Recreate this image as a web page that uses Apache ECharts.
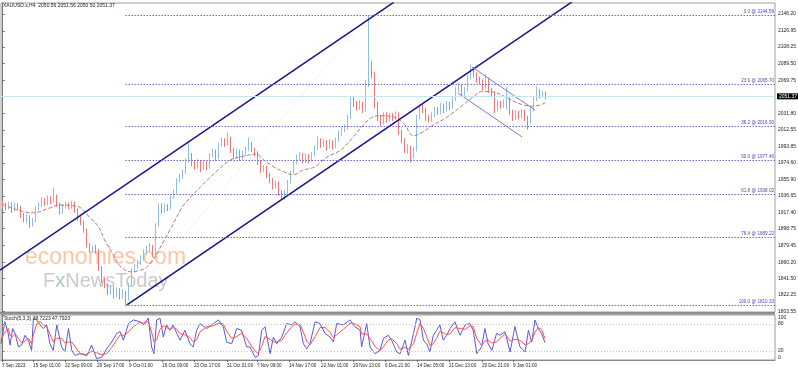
<!DOCTYPE html>
<html><head><meta charset="utf-8">
<script src="https://cdn.jsdelivr.net/npm/echarts@6/dist/echarts.min.js"></script>
<style>html,body{margin:0;padding:0;background:#fff}#c{width:798px;height:371px}</style>
</head><body><div id="c"></div>
<script>
// ---- DATA (one bar ~ 12h) ----
const opens = [
1928,1926,1923,1927,1920,1926,1923,1914,1909,1912,
1904,1908,1923,1926,1932,1928,1934,1930,1936,1927,
1918,1925,1927,1924,1928,1920,1911,1906,1897,1880,
1874,1876,1873,1853,1839,1834,1825,1830,1822,1828,
1821,1825,1818,1834,1851,1855,1860,1865,1872,1876,
1878,1870,1903,1926,1920,1925,1923,1936,1941,1955,
1959,1964,1978,1984,1975,1971,1976,1969,1975,1970,
1984,1988,1981,1996,2001,1997,2003,1990,1983,1988,
1981,1986,1990,1997,1990,1986,1976,1967,1969,1961,
1955,1948,1951,1941,1937,1940,1953,1964,1976,1981,
1984,1978,1983,1978,1984,1992,2001,1996,1999,1993,
1999,1994,2001,2009,2013,2015,2027,2048,2043,2039,
2043,2036,2066,2087,2077,2042,2027,2022,2030,2025,
2029,2027,2031,2011,2001,1990,1992,1984,1990,2027,
2039,2036,2027,2025,2030,2036,2034,2041,2036,2043,
2039,2048,2059,2063,2055,2059,2073,2083,2077,2071,
2069,2062,2071,2059,2055,2036,2044,2041,2045,2048,
2034,2027,2033,2029,2034,2027,2022,2036,2048,2057,
2053,2055];
const closes = [
1926,1923,1927,1920,1926,1923,1914,1909,1912,1904,
1908,1923,1926,1932,1928,1934,1930,1936,1927,1918,
1925,1927,1924,1928,1920,1911,1906,1897,1880,1874,
1876,1873,1853,1839,1834,1825,1830,1822,1828,1821,
1825,1818,1834,1851,1855,1860,1865,1872,1876,1878,
1870,1903,1926,1920,1925,1923,1936,1941,1955,1959,
1964,1978,1984,1975,1971,1976,1969,1975,1970,1984,
1988,1981,1996,2001,1997,2003,1990,1983,1988,1981,
1986,1990,1997,1990,1986,1976,1967,1969,1961,1955,
1948,1951,1941,1937,1940,1953,1964,1976,1981,1984,
1978,1983,1978,1984,1992,2001,1996,1999,1993,1999,
1994,2001,2009,2013,2015,2027,2048,2043,2039,2043,
2036,2066,2087,2077,2042,2027,2022,2030,2025,2029,
2027,2031,2011,2001,1990,1992,1984,1990,2027,2039,
2036,2027,2025,2030,2036,2034,2041,2036,2043,2039,
2048,2059,2063,2055,2059,2073,2083,2077,2071,2069,
2062,2071,2059,2055,2036,2044,2041,2045,2048,2034,
2027,2033,2029,2034,2027,2022,2036,2048,2057,2053,
2055,2051.37];
const lows = [
1922,1920,1921,1917,1918,1920,1911,1906,1905,1900,
1901,1906,1920,1924,1925,1926,1927,1929,1924,1915,
1916,1922,1921,1922,1917,1908,1903,1894,1877,1871,
1872,1870,1850,1836,1830,1822,1823,1818,1820,1817,
1818,1810.33,1816,1832,1848,1852,1857,1862,1869,1873,
1866,1868,1901,1916,1917,1919,1921,1933,1939,1952,
1956,1962,1975,1971,1967,1968,1964,1966,1966,1968,
1981,1977,1979,1993,1993,1995,1986,1979,1980,1977,
1978,1983,1988,1987,1982,1972,1963,1964,1957,1951,
1944,1945,1937,1933,1932,1938,1951,1962,1973,1978,
1974,1975,1974,1976,1982,1990,1992,1993,1989,1991,
1990,1992,1999,2006,2010,2013,2025,2039,2035,2036,
2032,2034,2062,2072,2038,2023,2017,2019,2021,2022,
2023,2024,2007,1997,1986,1985,1975,1980,1988,2025,
2032,2023,2021,2022,2027,2030,2031,2032,2034,2035,
2037,2046,2056,2051,2052,2057,2071,2073,2067,2065,
2058,2060,2055,2051,2032,2034,2037,2038,2036,2030,
2023,2024,2025,2026,2023,2013,2020,2034,2046,2049,
2050,2048];
const highs = [
1931,1929,1930,1929,1929,1928,1925,1917,1915,1914,
1911,1925,1929,1935,1934,1937,1936,1946,1938,1929,
1927,1930,1929,1931,1930,1922,1913,1908,1899,1882,
1879,1880,1875,1855,1842,1836,1834,1832,1831,1830,
1829,1827,1836,1853,1858,1863,1868,1875,1879,1882,
1880,1905,1928,1928,1928,1927,1938,1944,1957,1962,
1967,1980,1998,1986,1978,1979,1978,1978,1977,1986,
1991,1990,1998,2004,2003,2010,2005,1992,1991,1990,
1989,1993,2004,1999,1992,1988,1978,1972,1971,1963,
1957,1954,1953,1943,1943,1955,1966,1978,1984,1987,
1986,1986,1985,1987,1995,2005,2003,2002,2001,2002,
2001,2004,2012,2016,2019,2030,2052,2051,2046,2047,
2045,2070,2144.59,2092,2080,2045,2030,2033,2033,2032,
2032,2034,2033,2013,2003,1996,1994,1993,2030,2042,
2043,2038,2030,2033,2039,2039,2044,2043,2046,2045,
2051,2062,2067,2065,2062,2076,2088,2085,2079,2074,
2071,2077,2073,2061,2057,2047,2046,2048,2062,2050,
2036,2036,2035,2037,2036,2029,2039,2051,2063,2060,
2058,2057];
const barCount = 258;            // bars that fit on the time axis (incl. empty right side)
const lastPrice = 2051.37;

// moving average: [bar, price]
const maPoints = [[0,1927],[10,1917],[16,1923],[19,1926],[24,1925],[26,1923],[29,1912],[32,1901],[34,1886],[36,1874],[38,1862],[40,1853],[43,1849],[46,1851],[48,1854],[50,1862],[54,1886],[57,1905],[60,1924],[64,1940],[66,1947],[72,1967],[76,1978],[80,1982],[85,1985],[86,1981],[90,1971],[94,1964],[97,1961],[100,1966],[104,1970],[108,1981],[113,1990],[117,2005],[120,2017],[123,2027],[126,2029],[130,2028],[132,2025],[134,2019],[137,2006],[140,2010],[143,2017],[148,2027],[153,2040],[157,2051],[160,2057],[164,2056],[168,2050],[173,2042],[177,2040],[181,2044]];

// drawn trend lines: [bar, price]
const channelUpper = [[-0.83,1851.1],[130.5,2160]];
const channelLower = [[41.5,1810.8],[192,2165.4]];
const flagUpper = [[156.5,2085.2],[177.5,2035.6]];
const flagLower = [[151.8,2055.2],[173.2,2004.5]];
const fibTrend = [[41,1810.33],[122,2144.59]];

const fibStartBar = 41;
const fibNames = ['0.0','23.6','38.2','50.0','61.8','76.4','100.0'];
const fibLevels = [2144.59,2065.70,2016.90,1977.46,1938.02,1889.22,1810.33];

const priceTicks = [2146.20,2126.95,2108.25,2089.50,2069.75,2031.80,2012.55,1993.85,1974.60,1955.90,1936.65,1917.40,1898.75,1879.45,1860.20,1841.50,1822.25,1803.55];
const stochTicks = [0,20,80,100];
const stochLevels = [20,80];
const xLabelPos = [-0.2,10.2,20.8,31.5,42.2,53.2,63.8,74.8,84.8,95.5,106.2,116.8,127.5,138.2,148.8,159.8,170.2];
const xLabelText = ['7 Sep 2023','15 Sep 01:00','22 Sep 09:00','29 Sep 17:00','9 Oct 01:00','16 Oct 09:00','23 Oct 17:00','31 Oct 01:00','7 Nov 09:00','14 Nov 17:00','22 Nov 01:00','29 Nov 13:00','6 Dec 21:00','14 Dec 05:00','21 Dec 13:00','29 Dec 21:00','9 Jan 01:00'];

const stochK = [[-0.5,36],[0.8,85],[1.9,59],[2.5,33],[3.4,70],[4.2,59],[5.3,29],[6.4,33],[7.5,55],[8.6,44],[9.7,21],[10.3,93],[11.4,89],[12.5,78],[13.6,70],[14.7,78],[15.8,36],[16.9,21],[18.1,78],[19.7,29],[20.8,18],[22.0,70],[23.1,21],[24.2,10],[25.8,14],[28.1,10],[29.7,33],[31.4,3],[33.1,6],[34.7,25],[36.4,40],[38.1,59],[39.2,63],[40.3,44],[42.0,81],[43.6,89],[45.8,85],[47.0,78],[48.6,93],[49.7,29],[50.5,14],[51.4,89],[52.5,93],[53.6,51],[54.7,78],[55.8,66],[56.9,78],[58.1,59],[59.2,44],[60.8,66],[62.5,36],[63.6,29],[64.7,66],[65.8,81],[68.1,70],[70.3,81],[72.0,89],[73.6,74],[74.7,40],[76.4,36],[78.1,70],[79.7,66],[81.4,29],[82.5,29],[84.2,6],[85.3,10],[86.4,66],[87.5,74],[89.2,14],[90.3,51],[91.4,36],[93.1,51],[94.7,81],[96.4,78],[97.5,85],[99.2,74],[100.3,36],[101.4,25],[102.5,36],[104.2,85],[105.8,81],[107.5,59],[109.2,51],[110.3,40],[111.4,81],[113.6,78],[115.8,89],[117.5,74],[119.2,66],[119.7,29],[121.4,81],[122.5,29],[124.2,14],[125.8,21],[127.0,48],[128.6,55],[129.7,44],[131.4,18],[132.5,14],[134.2,44],[135.3,10],[137.0,59],[138.1,93],[139.2,89],[140.3,44],[141.4,36],[142.5,18],[143.6,55],[144.7,66],[145.8,78],[146.9,44],[148.1,55],[149.2,70],[150.8,85],[152.5,55],[154.2,78],[155.8,81],[156.9,66],[158.1,14],[159.7,29],[160.8,70],[161.9,36],[163.1,21],[164.7,59],[165.8,55],[167.5,63],[169.2,18],[170.8,74],[172.5,29],[174.2,18],[175.3,66],[176.4,40],[177.5,89],[178.6,70],[179.7,59],[180.8,38.72]];
const stochD = [[-0.5,45],[0.8,62],[1.9,70],[2.5,55],[3.4,52],[4.2,58],[5.3,48],[6.4,38],[7.5,42],[8.6,48],[9.7,36],[10.3,56],[11.4,80],[12.5,86],[13.6,78],[14.7,75],[15.8,58],[16.9,40],[18.1,48],[19.7,48],[20.8,38],[22.0,40],[23.1,40],[24.2,30],[25.8,14],[28.1,12],[29.7,20],[31.4,16],[33.1,12],[34.7,14],[36.4,28],[38.1,45],[39.2,56],[40.3,54],[42.0,62],[43.6,74],[45.8,84],[47.0,82],[48.6,85],[49.7,62],[50.5,40],[51.4,45],[52.5,68],[53.6,76],[54.7,72],[55.8,68],[56.9,72],[58.1,68],[59.2,58],[60.8,56],[62.5,50],[63.6,40],[64.7,45],[65.8,62],[68.1,74],[70.3,76],[72.0,82],[73.6,80],[74.7,64],[76.4,48],[78.1,52],[79.7,60],[81.4,48],[82.5,36],[84.2,20],[85.3,14],[86.4,30],[87.5,52],[89.2,46],[90.3,40],[91.4,40],[93.1,44],[94.7,60],[96.4,74],[97.5,80],[99.2,78],[100.3,62],[101.4,42],[102.5,34],[104.2,52],[105.8,72],[107.5,72],[109.2,62],[110.3,50],[111.4,56],[113.6,68],[115.8,82],[117.5,80],[119.2,74],[119.7,58],[121.4,58],[122.5,48],[124.2,30],[125.8,20],[127.0,30],[128.6,44],[129.7,48],[131.4,36],[132.5,24],[134.2,28],[135.3,24],[137.0,36],[138.1,60],[139.2,82],[140.3,70],[141.4,52],[142.5,32],[143.6,36],[144.7,48],[145.8,64],[146.9,60],[148.1,56],[149.2,58],[150.8,72],[152.5,70],[154.2,68],[155.8,76],[156.9,74],[158.1,48],[159.7,32],[160.8,42],[161.9,44],[163.1,38],[164.7,40],[165.8,48],[167.5,58],[169.2,42],[170.8,46],[172.5,44],[174.2,34],[175.3,36],[176.4,44],[177.5,62],[178.6,72],[179.7,68],[180.8,47.79]];

// ---- CHART ----
const FONT = 'Liberation Sans';
const categories = Array.from({length: barCount}, (_, i) => String(i));
const candles = opens.map((o, i) => [o, closes[i], lows[i], highs[i]]);
const chart = echarts.init(document.getElementById('c'), null, {renderer: 'canvas'});

const trend = (data, color, width, type) => ({
  type: 'line', xAxisIndex: 1, yAxisIndex: 0, data, showSymbol: false, silent: true,
  lineStyle: {color, width, type: type || 'solid'}, z: 4, animation: false
});

chart.setOption({
  animation: false,
  backgroundColor: '#fff',
  grid: [
    {left: 1, right: 23, top: 3, height: 309, show: true, borderColor: '#a0a0a0', borderWidth: 1, outerBoundsMode: 'none', containLabel: false},
    {left: 1, right: 23, top: 315, height: 45, show: true, borderColor: '#9a9a9a', borderWidth: 1, outerBoundsMode: 'none', containLabel: false}
  ],
  xAxis: [
    {type: 'category', gridIndex: 0, data: categories, boundaryGap: true, show: false},
    {type: 'value', gridIndex: 0, min: -0.5, max: barCount - 0.5, show: false},
    {type: 'value', gridIndex: 1, min: -0.5, max: barCount - 0.5,
     splitLine: {show: false},
     axisLine: {show: true, lineStyle: {color: '#888'}},
     axisTick: {show: true, customValues: xLabelPos, length: 2, lineStyle: {color: '#666'}},
     axisLabel: {customValues: xLabelPos, align: 'left', margin: 3, fontSize: 4.6, fontFamily: FONT, color: '#222',
       formatter: (v) => { let k = 0, d = 1e9; xLabelPos.forEach((p, j) => { if (Math.abs(p - v) < d) { d = Math.abs(p - v); k = j; } }); return xLabelText[k]; }}}
  ],
  yAxis: [
    {type: 'value', gridIndex: 0, position: 'right', min: 1802.7, max: 2159.0,
     splitLine: {show: false},
     axisLine: {show: true, lineStyle: {color: '#777'}},
     axisTick: {show: true, customValues: priceTicks, length: 2, lineStyle: {color: '#666'}},
     axisLabel: {customValues: priceTicks, formatter: (v) => v.toFixed(2), fontSize: 5, fontFamily: FONT, color: '#222', margin: 3}},
    {type: 'value', gridIndex: 1, position: 'right', min: 0, max: 100,
     splitLine: {show: false},
     axisLine: {show: true, lineStyle: {color: '#777'}},
     axisTick: {show: true, customValues: stochTicks, length: 2, lineStyle: {color: '#666'}},
     axisLabel: {customValues: stochTicks, fontSize: 5, fontFamily: FONT, color: '#222', margin: 3,
       verticalAlignMinLabel: 'bottom', verticalAlignMaxLabel: 'top'}}
  ],
  graphic: [
    {type: 'rect', left: 0, top: 312, shape: {width: 775, height: 2.5}, style: {fill: '#8c8c8c'}, z: 10, silent: true},
    {type: 'text', left: 3, top: 3, z: 10, silent: true, style: {text: 'XAUUSD.s,H4  2050.56 2051.56 2050.50 2051.37', font: '5px ' + FONT, fill: '#222'}},
    {type: 'text', left: 4, top: 316, z: 10, silent: true, style: {text: 'Stoch(5,3,3) 38.7223 47.7920', font: '5px ' + FONT, fill: '#222'}},
    {type: 'text', left: 25, top: 246, z: 1, silent: true, style: {text: 'economies.com', font: '23px "Liberation Sans"', fill: 'rgba(246,160,105,0.6)'}},
    {type: 'text', left: 43, top: 271, z: 1, silent: true, style: {
      text: '{a|F}{b|x}{a|NewsToday}',
      rich: {a: {font: '20px "Liberation Sans"', fill: 'rgba(150,150,150,0.5)'}, b: {font: '20px "Liberation Sans"', fill: 'rgba(120,170,120,0.6)'}}
    }}
  ],
  series: [
    {type: 'candlestick', xAxisIndex: 0, yAxisIndex: 0, data: candles, barWidth: 1.2, z: 3,
     itemStyle: {color: '#92bde5', color0: '#f37676', borderColor: '#92bde5', borderColor0: '#f37676', borderWidth: 1},
     markLine: {silent: true, symbol: ['none', 'none'], animation: false,
       lineStyle: {color: '#c3e8f0', width: 1, type: 'solid'},
       label: {position: 'end', distance: 2, formatter: lastPrice.toFixed(2), backgroundColor: '#000', color: '#fff', fontSize: 5, fontFamily: FONT, padding: [1, 2, 0, 2]},
       data: [{yAxis: lastPrice}]}},
    {type: 'line', xAxisIndex: 1, yAxisIndex: 0, data: maPoints, showSymbol: false, smooth: 0.4, silent: true, z: 4,
     lineStyle: {color: '#b9786f', width: 1, type: [4, 2]}},
    Object.assign(trend(fibTrend, '#dcdcdc', 1, [1, 2]), {
      markLine: {silent: true, symbol: ['none', 'none'], animation: false,
        lineStyle: {color: '#6e6ecc', width: 1, type: [1.5, 1.5]},
        label: {position: 'insideEndTop', distance: [1, 1], color: '#4a4ab4', fontSize: 4.6, fontFamily: FONT},
        data: fibLevels.map((lv, k) => [{coord: [fibStartBar, lv]}, {coord: [barCount - 0.5, lv], label: {formatter: fibNames[k] + ' @ ' + lv.toFixed(2)}}])}
    }),
    trend(channelUpper, '#141488', 1.5),
    trend(channelLower, '#141488', 1.5),
    trend(flagUpper, '#7c7ccc', 1),
    trend(flagLower, '#7c7ccc', 1),
    {type: 'line', xAxisIndex: 2, yAxisIndex: 1, data: stochK, showSymbol: false, silent: true,
     lineStyle: {color: '#5a5ad6', width: 1},
     markLine: {silent: true, symbol: ['none', 'none'], animation: false,
       lineStyle: {color: '#c4c4c4', width: 1, type: [1, 2]}, label: {show: false},
       data: stochLevels.map(v => ({yAxis: v}))}},
    {type: 'line', xAxisIndex: 2, yAxisIndex: 1, data: stochD, showSymbol: false, silent: true,
     lineStyle: {color: '#ff5050', width: 1}}
  ]
});
</script>
</body></html>
